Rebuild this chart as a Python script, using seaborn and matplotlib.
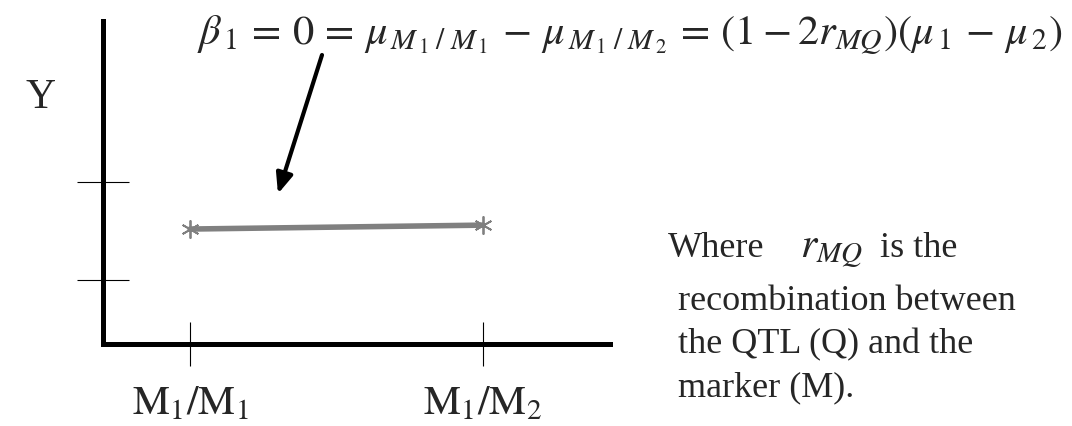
#!/usr/bin/env python3

import matplotlib
matplotlib.use("Agg")
import matplotlib.pyplot as plt
import seaborn as sns
import pandas as pd

# genotype classes on the x axis and the (flat) group means
genotypes = [r"$\mathrm{M}_1/\mathrm{M}_1$", r"$\mathrm{M}_1/\mathrm{M}_2$"]
geno_pos = [1, 2]
group_mean = [1.52, 1.56]
y_ticks = [1, 2]

formula = (r"$\beta_{\,1}\,=\,0\,=\,\mu_{\,M_{\,1}\;/\;M_{\,1}}\,-\,"
           r"\mu_{\,M_{\,1}\;/\;M_{\,2}}\,=\,(1-2r_{MQ})(\mu_{\,1}\,-\,\mu_{\,2})$")

sns.set_style("white")
plt.rcParams["font.family"] = ["Liberation Serif", "DejaVu Serif"]
plt.rcParams["mathtext.fontset"] = "stix"

fig = plt.figure(figsize=(10.72, 4.27), dpi=100)
ax = fig.add_axes([103 / 1072, 82 / 427, 507 / 1072, 323 / 427])

df = pd.DataFrame({"pos": geno_pos, "mean": group_mean})
sns.lineplot(data=df, x="pos", y="mean", ax=ax,
             color="#808080", linewidth=4,
             marker=(6, 2, 0), markersize=13,
             markeredgecolor="#808080", markeredgewidth=1.3)

ax.set_xlim(0.703, 2.433)
ax.set_ylim(0.347, 3.643)
ax.set_xticks(geno_pos)
ax.set_xticklabels(genotypes, fontsize=30)
ax.set_yticks(y_ticks)
ax.set_yticklabels([])
ax.tick_params(axis="x", bottom=True, direction="inout", length=31,
               width=0.8, color="black", pad=13)
ax.tick_params(axis="y", left=True, direction="inout", length=37,
               width=0.8, color="black")
ax.set_xlabel("")
ax.set_ylabel("Y", rotation=0, fontsize=30, va="center", ha="center")
ax.yaxis.set_label_coords(-0.124, 0.765)

for s in ["top", "right"]:
    ax.spines[s].set_visible(False)
for s in ["left", "bottom"]:
    ax.spines[s].set_linewidth(3.6)
    ax.spines[s].set_color("black")
    ax.spines[s].set_capstyle("projecting")

fig.text(197 / 1072, 1 - 44 / 427, formula, fontsize=30.6,
         ha="left", va="baseline")

ax.annotate("", xy=(1.30, 1.88), xycoords="data",
            xytext=(322 / 1072, 1 - 56 / 427), textcoords="figure fraction",
            arrowprops=dict(arrowstyle="-|>,head_length=1.2,head_width=0.5",
                            color="black", lw=3, shrinkA=0, shrinkB=0))

# side note
fig.text(668 / 1072, 1 - 257 / 427, "Where", fontsize=26, va="baseline")
fig.text(800 / 1072, 1 - 257 / 427, r"$r_{MQ}$", fontsize=30, va="baseline")
fig.text(880 / 1072, 1 - 257 / 427, "is the", fontsize=26, va="baseline")
note = ["recombination between", "the QTL (Q) and the", "marker (M)."]
for i, line in enumerate(note):
    fig.text(678 / 1072, 1 - (310 + 43 * i) / 427, line, fontsize=26,
             va="baseline")

plt.savefig("out.png", dpi=100)
plt.close()
